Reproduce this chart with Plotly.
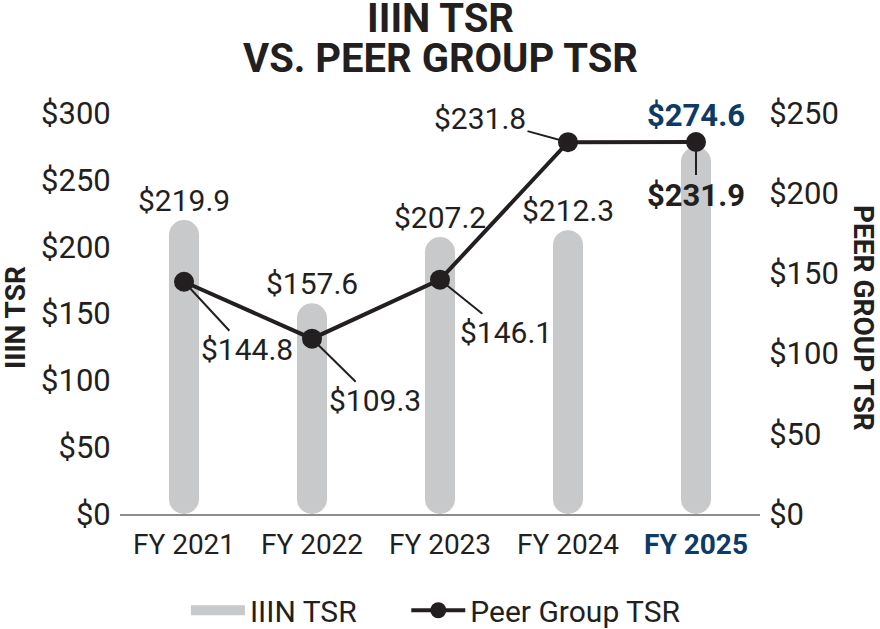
import plotly.graph_objects as go

# values
years = ["FY 2021", "FY 2022", "FY 2023", "FY 2024", "FY 2025"]
year_labels = ["FY 2021", "FY 2022", "FY 2023", "FY 2024",
               "<b><span style='color:#0d3a66'>FY 2025</span></b>"]
iiin_tsr = [219.9, 157.6, 207.2, 212.3, 274.6]
peer_tsr = [144.8, 109.3, 146.1, 231.8, 231.9]

left_ticks = [0, 50, 100, 150, 200, 250, 300]
right_ticks = [0, 50, 100, 150, 200, 250]

INK = "#231f20"
BLUE = "#0d3a66"
GREY = "#c8c9cb"
FONT = "Roboto"

# label offsets (pixels) for the annotations
bar_label_shift = [0, 0, 0, 0, 11]
peer_label_offset = [(63, 68), (63, 62), (66, 53), (-88, -24), (0, 53)]

x_pos = list(range(len(years)))

fig = go.Figure()

fig.add_trace(go.Bar(
    x=x_pos, y=iiin_tsr, base=[0] * len(iiin_tsr), width=0.235,
    marker=dict(color=GREY, cornerradius=15, line=dict(width=0)),
    name="IIIN TSR", showlegend=False,
    hovertemplate="%{y:$.1f}<extra>IIIN TSR</extra>",
))
# legend entry for the bars (thick grey stroke like the pill in the original)
fig.add_trace(go.Scatter(
    x=[None], y=[None], mode="lines", line=dict(color=GREY, width=18),
    name="IIIN TSR" + "\u00a0" * 6,
))
fig.add_trace(go.Scatter(
    x=x_pos, y=peer_tsr, yaxis="y2", mode="lines+markers",
    line=dict(color=INK, width=4),
    marker=dict(color=INK, size=20),
    name="Peer Group TSR",
))

annotations = []
for i, v in enumerate(iiin_tsr):
    last = i == len(iiin_tsr) - 1
    annotations.append(dict(
        x=i, y=v, xref="x", yref="y", xanchor="center", yanchor="bottom",
        yshift=bar_label_shift[i],
        text=f"<b>${v:.1f}</b>" if last else f"${v:.1f}", showarrow=False,
        font=dict(family=FONT, size=31 if last else 30, color=BLUE if last else INK),
    ))
for i, v in enumerate(peer_tsr):
    last = i == len(peer_tsr) - 1
    ax, ay = peer_label_offset[i]
    annotations.append(dict(
        x=i, y=v, xref="x", yref="y2", ax=ax, ay=ay, axref="pixel", ayref="pixel",
        text=f"<b>${v:.1f}</b>" if last else f"${v:.1f}",
        showarrow=True, arrowhead=0, arrowwidth=2, arrowcolor=INK, standoff=0,
        font=dict(family=FONT, size=31 if last else 30, color=INK),
    ))

# chart title and axis titles
annotations += [
    dict(x=0.5, y=(514 - 18) / 401, xref="paper", yref="paper", text="<b>IIIN TSR</b>",
         xanchor="center", yanchor="middle", showarrow=False,
         font=dict(family=FONT, size=40, color=INK)),
    dict(x=0.5, y=(514 - 58) / 401, xref="paper", yref="paper",
         text="<b>VS. PEER GROUP TSR</b>", xanchor="center", yanchor="middle",
         showarrow=False, font=dict(family=FONT, size=40, color=INK)),
    dict(x=(15 - 120) / 640, y=(514 - 318) / 401, xref="paper", yref="paper",
         text="<b>IIIN TSR</b>", xanchor="center", yanchor="middle", textangle=-90,
         showarrow=False, font=dict(family=FONT, size=28, color=INK)),
    dict(x=(864 - 120) / 640, y=(514 - 318) / 401, xref="paper", yref="paper",
         text="<b>PEER GROUP TSR</b>", xanchor="center", yanchor="middle",
         textangle=90, showarrow=False, font=dict(family=FONT, size=28, color=INK)),
]

fig.update_layout(
    width=880, height=629,
    margin=dict(l=120, r=120, t=113, b=115, autoexpand=False),
    paper_bgcolor="white", plot_bgcolor="white",
    barmode="overlay",
    font=dict(family=FONT, color=INK, size=28),
    showlegend=True,
    legend=dict(orientation="h", x=0.103, xanchor="left", y=-0.24, yanchor="middle",
                itemwidth=54, font=dict(family=FONT, size=30, color=INK)),
    xaxis=dict(
        tickmode="array", tickvals=x_pos, ticktext=year_labels,
        range=[-0.5, len(years) - 0.5],
        showgrid=False, zeroline=False, showline=True, linecolor="#8c8c8c", linewidth=1.5,
        ticks="outside", ticklen=5, tickcolor="rgba(0,0,0,0)",
        tickfont=dict(family=FONT, size=28, color=INK),
    ),
    yaxis=dict(
        range=[0, 300], tickmode="array", tickvals=left_ticks,
        ticktext=[f"${t}" for t in left_ticks],
        showgrid=False, zeroline=False, showline=False,
        ticks="outside", ticklen=2, tickcolor="rgba(0,0,0,0)",
        tickfont=dict(family=FONT, size=31, color=INK),
    ),
    yaxis2=dict(
        overlaying="y", side="right", range=[0, 250], tickmode="array",
        tickvals=right_ticks, ticktext=[f"${t}" for t in right_ticks],
        showgrid=False, zeroline=False, showline=False,
        ticks="outside", ticklen=2, tickcolor="rgba(0,0,0,0)",
        tickfont=dict(family=FONT, size=31, color=INK),
    ),
    annotations=annotations,
)

# the page's default body margin would push the figure 8px off the corner
fig.write_html("out.html", config={"displayModeBar": False},
               post_script="document.body.style.margin = '0';")
